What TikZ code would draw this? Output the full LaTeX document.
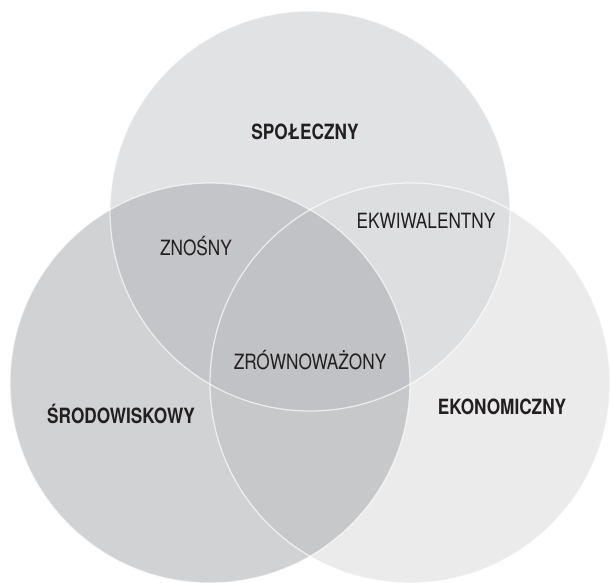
\documentclass[tikz,border=0pt]{standalone}
\usepackage{fontspec}
\setmainfont[FakeStretch=0.82]{TeX Gyre Heros}
\definecolor{cTop}{HTML}{E1E2E4}
\definecolor{cLeft}{HTML}{D1D2D4}
\definecolor{cRight}{HTML}{EBEBEB}
\definecolor{cTL}{HTML}{C4C5C8}
\definecolor{cTR}{HTML}{DDDEE0}
\definecolor{cLR}{HTML}{C7C8CA}
\definecolor{cC}{HTML}{C1C2C5}
\definecolor{txt}{HTML}{231F20}
\begin{document}
\begin{tikzpicture}[x=1pt,y=-1pt,
  lbl/.style={font=\fontsize{21}{21}\selectfont, text=txt, inner sep=0pt},
  blbl/.style={font=\fontsize{21}{21}\selectfont\bfseries, text=txt, inner sep=0pt},
  rim/.style={draw=white, draw opacity=0.65, line width=1.3pt}]
\useasboundingbox (0,0) rectangle (611,582);
\fill[white] (0,0) rectangle (611,582);
\coordinate (T) at (310,211);
\coordinate (L) at (210,383);
\coordinate (R) at (410,383);
\fill[cTop] (T) circle[radius=200pt];
\fill[cLeft] (L) circle[radius=200pt];
\fill[cRight] (R) circle[radius=200pt];
\begin{scope}
  \clip (L) circle[radius=200pt];
  \fill[cLR] (R) circle[radius=200pt];
\end{scope}
\begin{scope}
  \clip (T) circle[radius=200pt];
  \fill[cTL] (L) circle[radius=200pt];
  \fill[cTR] (R) circle[radius=200pt];
  \clip (L) circle[radius=200pt];
  \fill[cC] (R) circle[radius=200pt];
\end{scope}
\draw[rim] (T) circle[radius=200pt];
\draw[rim] (L) circle[radius=200pt];
\draw[rim] (R) circle[radius=200pt];
\node[blbl] (spo) at (305,132) {SPOŁECZNY};
\node[lbl] (zno) at (196,246) {ZNOŚNY};
\node[lbl] (ekw) at (426,221) {EKWIWALENTNY};
\node[lbl] (zro) at (310,360) {ZRÓWNOWAŻONY};
\node[blbl] (sro) at (121,414) {ŚRODOWISKOWY};
\node[blbl] (eko) at (502,407) {EKONOMICZNY};
\end{tikzpicture}
\end{document}
